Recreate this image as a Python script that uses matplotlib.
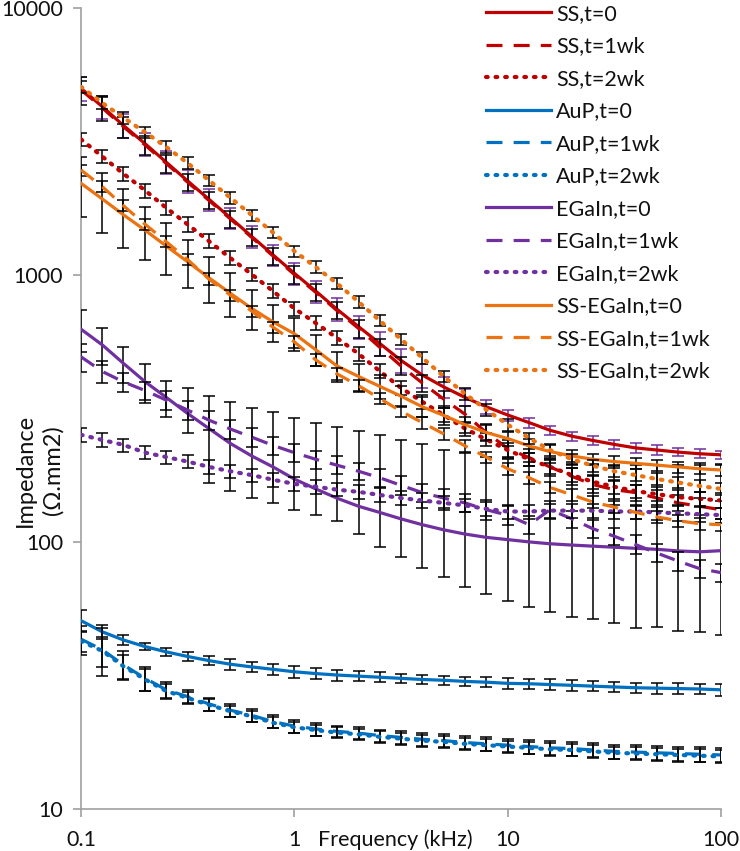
import matplotlib
matplotlib.use("Agg")
import matplotlib.pyplot as plt

plt.rcParams['font.family'] = ['Lato', 'DejaVu Sans']

# frequency (kHz), 10 points per decade
freq = [0.1, 0.126, 0.158, 0.2, 0.251, 0.316, 0.398, 0.501, 0.631, 0.794,
        1, 1.26, 1.58, 2, 2.51, 3.16, 3.98, 5.01, 6.31, 7.94,
        10, 12.6, 15.8, 20, 25.1, 31.6, 39.8, 50.1, 63.1, 79.4, 100]

# impedance (ohm.mm2)
ss_t0 = [5012, 4276, 3639, 3105, 2649, 2254, 1923, 1641, 1396, 1191, 1016, 871, 746, 641, 555, 479,
         422, 381, 348, 321, 299, 280, 262, 249, 240, 232, 225, 221, 217, 214, 212]
ss_1wk = [4950, 4230, 3600, 3070, 2620, 2230, 1905, 1625, 1385, 1180, 1005, 862, 738, 631, 537, 457,
          394, 343, 301, 257, 224, 207, 191, 176, 164, 157, 153, 146, 140, 136, 132]
ss_2wk = [3228, 2780, 2399, 2075, 1786, 1549, 1340, 1159, 1007, 871, 750, 661, 582, 507, 437, 378,
          335, 299, 266, 242, 221, 204, 191, 178, 168, 161, 155, 151, 147, 145, 143]
aup_t0 = [50.7, 46.0, 42.9, 40.5, 38.7, 37.2, 35.9, 34.8, 34.0, 33.3, 32.6, 32.1, 31.7, 31.4, 31.1, 30.8,
          30.5, 30.3, 30.0, 29.8, 29.5, 29.4, 29.2, 29.0, 28.8, 28.6, 28.4, 28.3, 28.2, 28.1, 27.9]
aup_1wk = [43.2, 39.4, 34.6, 30.8, 27.9, 26.3, 24.7, 23.4, 22.4, 21.2, 20.4, 19.9, 19.5, 19.2, 18.8, 18.5,
           18.2, 18.0, 17.7, 17.5, 17.3, 17.1, 16.9, 16.8, 16.6, 16.4, 16.3, 16.2, 16.1, 16.0, 15.9]
aup_2wk = [42.5, 39.0, 34.2, 30.5, 27.6, 26.0, 24.5, 23.2, 22.2, 21.0, 20.2, 19.7, 19.3, 19.0, 18.6, 18.3,
           18.0, 17.8, 17.5, 17.3, 17.1, 16.9, 16.7, 16.6, 16.4, 16.2, 16.1, 16.0, 15.9, 15.8, 15.7]
eg_t0 = [627, 547, 467, 398, 348, 303, 266, 234, 210, 191, 172, 158, 146, 136, 129, 122,
         116, 111, 107, 104, 102, 100, 98.4, 97.3, 96.4, 95.5, 94.6, 93.8, 92.5, 91.8, 92.7]
eg_1wk = [494, 435, 398, 369, 340, 312, 286, 265, 247, 230, 216, 204, 194, 184, 174, 163,
          153, 146, 140, 132, 126, 116, 132, 122, 112, 105, 97.7, 90.8, 84.7, 79.4, 76.7]
eg_2wk = [252, 241, 231, 216, 208, 200, 191, 184, 178, 171, 165, 161, 157, 154, 150, 146,
          143, 140, 137, 133, 130, 130, 131, 131, 131, 130, 130, 129, 128, 127, 126]
sse_t0 = [2208, 1928, 1683, 1472, 1285, 1122, 977, 855, 750, 668, 603, 525, 457, 417, 383, 352,
          321, 298, 275, 257, 244, 229, 218, 210, 204, 200, 197, 194, 191, 188, 186]
sse_1wk = [2477, 2143, 1820, 1549, 1334, 1143, 966, 841, 733, 638, 562, 481, 427, 385, 345, 309,
           280, 254, 229, 208, 188, 174, 160, 150, 141, 135, 129, 124, 120, 117, 116]
sse_2wk = [5082, 4416, 3890, 3428, 3020, 2630, 2265, 1950, 1679, 1445, 1230, 1072, 933, 794, 676, 575,
           490, 417, 359, 313, 275, 245, 221, 204, 193, 184, 178, 172, 167, 162, 158]

# error bars (+/-)
ss_t0_err = [520, 420, 360, 300, 260, 220, 180, 150, 130, 110, 95, 82, 73, 64, 58, 50,
             43, 34, 25, 19, 14, 12, 11, 10, 10, 9, 9, 9, 8, 8, 8]
ss_1wk_err = [600, 450, 330, 260, 210, 170, 140, 120, 100, 85, 75, 65, 55, 48, 40, 35,
              30, 26, 22, 19, 17, 15, 14, 13, 12, 12, 11, 11, 10, 10, 10]
ss_2wk_err = [190, 160, 145, 125, 105, 95, 80, 70, 60, 52, 45, 40, 35, 30, 26, 23,
              20, 18, 16, 14, 13, 12, 11, 11, 10, 10, 9, 9, 9, 9, 9]
aup_t0_err = [4.9, 2.7, 1.9, 1.3, 1.2, 1.4, 1.4, 1.6, 1.6, 1.7, 1.8, 1.6, 1.5, 1.4, 1.3, 1.2,
              1.2, 1.2, 1.2, 1.3, 1.3, 1.3, 1.3, 1.3, 1.3, 1.3, 1.3, 1.3, 1.3, 1.3, 1.4]
aup_1wk_err = [5.4, 8.0, 4.3, 3.3, 2.0, 1.5, 1.4, 1.3, 1.2, 1.2, 1.1, 1.1, 1.0, 1.0, 1.0, 1.0,
               1.0, 1.0, 1.0, 1.0, 1.0, 1.0, 1.0, 1.0, 1.0, 1.0, 1.0, 1.0, 1.0, 1.0, 1.0]
aup_2wk_err = [4.0, 5.0, 3.5, 2.8, 1.8, 1.3, 1.2, 1.1, 1.0, 1.0, 1.0, 0.9, 0.9, 0.9, 0.9, 0.9,
               0.9, 0.9, 0.9, 0.9, 0.9, 0.9, 0.9, 0.9, 0.9, 0.9, 0.9, 0.9, 0.9, 0.9, 0.9]
eg_t0_err_lo = [113, 85, 72, 66, 53, 48, 100, 79, 64, 51, 40, 32, 26, 29, 33, 34,
                36, 37, 39, 40, 42, 43, 44, 45, 45, 46, 47, 46, 46, 46, 48]
eg_t0_err_hi = [113, 85, 72, 66, 53, 74, 86, 101, 108, 116, 119, 122, 123, 125, 122, 119,
                116, 110, 108, 104, 102, 100, 100, 99, 99, 98, 99, 100, 101, 102, 103]
eg_1wk_err = [60, 40, 32, 30, 27, 25, 23, 21, 20, 18, 17, 16, 15, 14, 14, 13,
              12, 12, 11, 11, 10, 9, 10, 9, 9, 8, 8, 7, 7, 6, 6]
eg_2wk_err = [15, 14, 13, 12, 12, 11, 11, 11, 10, 10, 10, 10, 9, 9, 9, 9,
              9, 8, 8, 8, 8, 8, 8, 8, 8, 8, 8, 8, 8, 8, 8]
sse_t0_err = [555, 484, 420, 335, 280, 230, 190, 160, 130, 105, 85, 70, 58, 48, 40, 33,
              28, 24, 20, 17, 15, 13, 12, 11, 10, 10, 9, 9, 9, 9, 9]
sse_1wk_err = [120, 100, 85, 75, 65, 55, 48, 42, 36, 32, 28, 24, 21, 19, 17, 15,
               14, 13, 12, 10, 10, 9, 8, 8, 7, 7, 7, 6, 6, 6, 6]
sse_2wk_err = [250, 220, 190, 170, 150, 130, 110, 95, 82, 72, 60, 53, 46, 40, 34, 29,
               25, 21, 18, 16, 14, 12, 11, 10, 10, 9, 9, 9, 8, 8, 8]

red = '#C00000'
blue = '#0070C0'
purple = '#7030A0'
orange = '#EB7311'

solid = '-'
dashed = (0, (5, 3.5))
dotted = (0, (0.4, 1.9))

series = [
    ('SS,t=0', ss_t0, ss_t0_err, red, solid, purple),
    ('SS,t=1wk', ss_1wk, ss_1wk_err, red, dashed, 'black'),
    ('SS,t=2wk', ss_2wk, ss_2wk_err, red, dotted, 'black'),
    ('AuP,t=0', aup_t0, aup_t0_err, blue, solid, 'black'),
    ('AuP,t=1wk', aup_1wk, aup_1wk_err, blue, dashed, 'black'),
    ('AuP,t=2wk', aup_2wk, aup_2wk_err, blue, dotted, 'black'),
    ('EGaIn,t=0', eg_t0, [eg_t0_err_lo, eg_t0_err_hi], purple, solid, 'black'),
    ('EGaIn,t=1wk', eg_1wk, eg_1wk_err, purple, dashed, 'black'),
    ('EGaIn,t=2wk', eg_2wk, eg_2wk_err, purple, dotted, 'black'),
    ('SS-EGaIn,t=0', sse_t0, sse_t0_err, orange, solid, 'black'),
    ('SS-EGaIn,t=1wk', sse_1wk, sse_1wk_err, orange, dashed, 'black'),
    ('SS-EGaIn,t=2wk', sse_2wk, sse_2wk_err, orange, dotted, 'black'),
]

fig = plt.figure(figsize=(7.4, 8.51), dpi=100)
ax = fig.add_axes([81 / 740, 1 - 808.7 / 851, 640 / 740, 800.4 / 851])

z = 2
for label, vals, err, color, ls, ecol in series:
    ax.errorbar(freq, vals, yerr=err, fmt='none', ecolor=ecol, elinewidth=1.1,
                capsize=4.5, capthick=1.1, zorder=z)
    if ls == dotted:
        ax.plot(freq, vals, color=color, linestyle=ls, linewidth=3.0,
                dash_capstyle='round', label=label, zorder=z + 1)
    else:
        ax.plot(freq, vals, color=color, linestyle=ls, linewidth=2.3,
                label=label, zorder=z + 1)
    z += 2

ax.set_xscale('log')
ax.set_yscale('log')
ax.set_xlim(0.1, 100)
ax.set_ylim(10, 10000)
ax.set_xticks([0.1, 1, 10, 100])
ax.set_xticklabels(['0.1', '1', '10', '100'])
ax.set_yticks([10, 100, 1000, 10000])
ax.set_yticklabels(['10', '100', '1000', '10000'])
ax.minorticks_off()

for s in ['top', 'right']:
    ax.spines[s].set_visible(False)
for s in ['left', 'bottom']:
    ax.spines[s].set_color('#A0A0A0')
    ax.spines[s].set_linewidth(1.2)
ax.tick_params(axis='both', which='major', color='#A0A0A0', length=6, width=1.2,
               labelsize=15.5, labelcolor='#111111')
ax.tick_params(axis='y', pad=7)
ax.tick_params(axis='x', pad=9)

fig.text(318 / 740, 5 / 851, 'Frequency (kHz)', fontsize=15.5, color='#111111',
         ha='left', va='baseline')
fig.text(39 / 740, 1 - 470 / 851, 'Impedance\n(Ω.mm2)', fontsize=17, color='#111111',
         rotation=90, ha='center', va='center', multialignment='center', linespacing=1.35)

ax.legend(loc='upper left', bbox_to_anchor=(486 / 740, 1 - 4 / 851),
          bbox_transform=fig.transFigure, frameon=False, fontsize=15.5,
          handlelength=3.0, handletextpad=0.25, labelspacing=0.58,
          borderpad=0, borderaxespad=0, labelcolor='#111111')

fig.savefig('out.png', dpi=100)
